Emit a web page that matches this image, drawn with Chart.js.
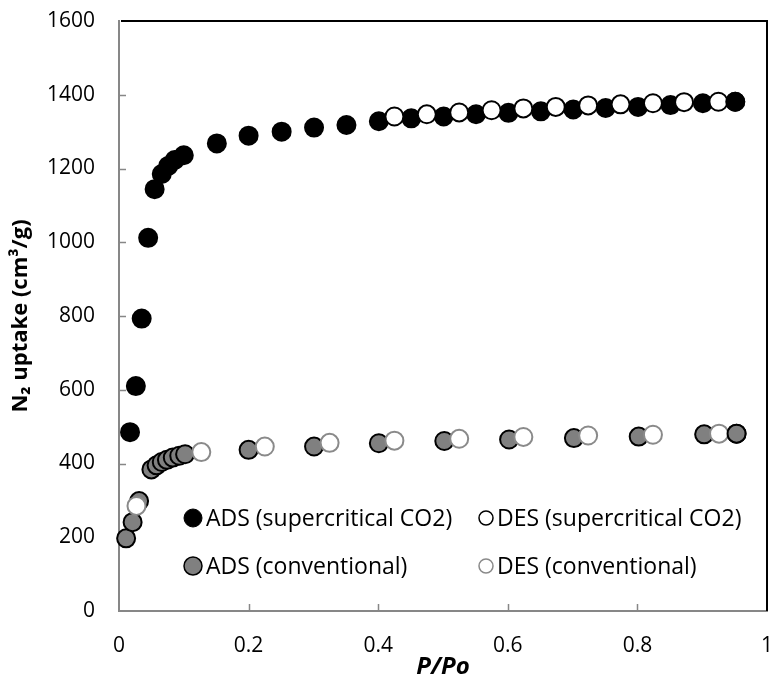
<!DOCTYPE html>
<html><head><meta charset="utf-8">
<script src="https://cdn.jsdelivr.net/npm/chart.js@4"></script>
<style>html,body{margin:0;padding:0;background:#fff}#wrap{width:778px;height:679px;position:relative}</style>
</head><body><div id="wrap"><canvas id="c"></canvas></div>
<script>
// ---- data ----
const adsSuperP = [0.017,0.026,0.035,0.045,0.055,0.066,0.076,0.086,0.100,0.151,0.200,0.251,0.301,0.351,0.401,0.451,0.501,0.551,0.601,0.651,0.701,0.751,0.801,0.851,0.901,0.951];
const adsSuperV = [485,610,793,1012,1144,1185,1207,1223,1236,1268,1289,1300,1311,1318,1328,1336,1341,1347,1351,1355,1360,1364,1367,1372,1377,1381];
const desSuperP = [0.425,0.475,0.525,0.575,0.624,0.674,0.724,0.774,0.824,0.872,0.925];
const desSuperV = [1341,1347,1352,1358,1363,1367,1371,1374,1377,1380,1381];
const adsConvP = [0.011,0.021,0.031,0.050,0.058,0.066,0.074,0.083,0.093,0.102,0.200,0.301,0.401,0.502,0.602,0.702,0.802,0.903,0.953];
const adsConvV = [197,241,298,384,395,404,410,416,421,425,437,446,455,461,465,469,473,479,481];
const desConvP = [0.027,0.127,0.225,0.325,0.425,0.525,0.624,0.724,0.824,0.926];
const desConvV = [285,431,446,456,462,467,472,476,478,481];
const seriesLabels = ['ADS (supercritical CO2)','DES (supercritical CO2)','ADS (conventional)','DES (conventional)'];
const xTicks = [0,0.2,0.4,0.6,0.8,1];
const yTicks = [0,200,400,600,800,1000,1200,1400,1600];

const pts = (xs, ys) => xs.map((x,i)=>({x, y: ys[i]}));
const lastPt = (xs, ys) => [{x: xs[xs.length-1], y: ys[ys.length-1]}];

const GRAY = '#808080';
const AXIS = '#878787';
const styles = [
  {bg:'#000', bd:'#000'},
  {bg:'#fff', bd:'#000'},
  {bg:GRAY, bd:'#000'},
  {bg:'#fff', bd:'#8a8a8a'}
];
const mk = (label, data, s, order) => ({label, data, order, backgroundColor:s.bg, borderColor:s.bd,
  pointBackgroundColor:s.bg, pointBorderColor:s.bd, pointRadius:9, pointHoverRadius:9, pointBorderWidth:2, showLine:false, clip:false});

const datasets = [
  mk(seriesLabels[0], pts(adsSuperP, adsSuperV), styles[0], 3),
  mk(seriesLabels[2], pts(adsConvP, adsConvV), styles[2], 3),
  mk(seriesLabels[1], pts(desSuperP, desSuperV), styles[1], 2),
  mk(seriesLabels[3], pts(desConvP, desConvV), styles[3], 2),
  mk('', lastPt(adsSuperP, adsSuperV), styles[0], 1),
  mk('', lastPt(adsConvP, adsConvV), styles[2], 1)
];

const FONT = "'Open Sans', sans-serif";

const framePlugin = {
  id:'frame',
  beforeDatasetsDraw(chart){
    const {ctx, chartArea:a, scales:{x,y}} = chart;
    ctx.save();
    ctx.strokeStyle = AXIS; ctx.lineWidth = 1.5;
    xTicks.forEach(v=>{ if(v<=0||v>=1) return; const px = Math.round(x.getPixelForValue(v))+0.5;
      ctx.beginPath(); ctx.moveTo(px, a.bottom); ctx.lineTo(px, a.bottom-7); ctx.stroke(); });
    yTicks.forEach(v=>{ if(v<=0||v>=1600) return; const py = Math.round(y.getPixelForValue(v))+0.5;
      ctx.beginPath(); ctx.moveTo(a.left, py); ctx.lineTo(a.left+7, py); ctx.stroke(); });
    ctx.strokeStyle = '#000'; ctx.lineWidth = 2;
    ctx.beginPath(); ctx.moveTo(a.left+2, a.top); ctx.lineTo(a.right, a.top); ctx.lineTo(a.right, a.bottom); ctx.stroke();
    ctx.restore();
  },
  afterDraw(chart){
    const {ctx} = chart;
    const items = [
      {i:0, mx:193, y:518, tx:206, r:9, bw:1},
      {i:1, mx:486, y:518, tx:497, r:7, bw:1.5},
      {i:2, mx:193, y:566, tx:206, r:9, bw:1.5},
      {i:3, mx:486, y:566, tx:497, r:7, bw:1.5}
    ];
    ctx.save();
    ctx.font = "23px " + FONT;
    ctx.textBaseline = 'middle';
    items.forEach(it=>{
      const s = styles[it.i];
      ctx.beginPath(); ctx.arc(it.mx, it.y, it.r, 0, Math.PI*2);
      ctx.fillStyle = s.bg; ctx.fill();
      ctx.lineWidth = it.bw; ctx.strokeStyle = s.bd; ctx.stroke();
      ctx.fillStyle = '#000';
      ctx.fillText(seriesLabels[it.i], it.tx, it.y+1);
    });
    ctx.restore();
  }
};

new Chart(document.getElementById('c'), {
  type:'scatter',
  data:{datasets},
  options:{
    responsive:true, maintainAspectRatio:false, animation:false,
    layout:{padding:{top:21, right:8, left:0, bottom:0}},
    plugins:{legend:{display:false}, tooltip:{enabled:false}},
    scales:{
      x:{type:'linear', min:0, max:1,
        afterBuildTicks(s){ s.ticks = xTicks.map(v=>({value:v})); },
        afterFit(s){ s.height = 68; s.paddingLeft = 0; s.paddingRight = 0; s.paddingTop = 0; s.paddingBottom = 0; },
        grid:{drawOnChartArea:false, drawTicks:false},
        border:{display:true, color:AXIS, width:2},
        ticks:{padding:22, color:'#000', font:{family:FONT, size:21}, maxRotation:0,
          callback:v=>String(v)},
        title:{display:true, text:'P/Po', color:'#000', padding:{top:0,bottom:0},
          font:{family:FONT, size:24, weight:'bold', style:'italic', lineHeight:1.0}}
      },
      y:{type:'linear', min:0, max:1600,
        afterBuildTicks(s){ s.ticks = yTicks.map(v=>({value:v})); },
        afterFit(s){ s.width = 119; s.paddingLeft = 0; s.paddingRight = 0; s.paddingTop = 0; s.paddingBottom = 0; },
        grid:{drawOnChartArea:false, drawTicks:false},
        border:{display:true, color:AXIS, width:2},
        ticks:{padding:24, color:'#000', font:{family:FONT, size:21}, callback:v=>String(v)},
        title:{display:true, text:'N\u2082 uptake (cm\u00B3/g)', color:'#000', padding:{top:8,bottom:0},
          font:{family:FONT, size:22, weight:'bold', lineHeight:1.2}}
      }
    }
  },
  plugins:[framePlugin]
});
</script></body></html>
